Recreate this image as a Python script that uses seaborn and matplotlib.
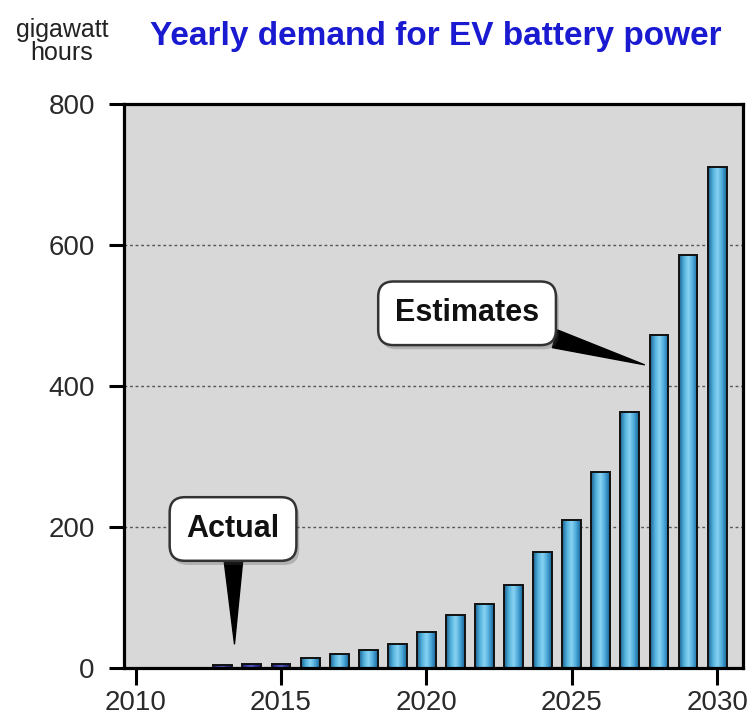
import numpy as np
import pandas as pd
import matplotlib
matplotlib.use("Agg")
import matplotlib.pyplot as plt
import matplotlib.patheffects as pe
from matplotlib.colors import LinearSegmentedColormap
import seaborn as sns

# data
years = list(range(2013, 2031))
demand = [4, 6, 6, 14, 19, 25, 34, 51, 75, 90, 117, 165, 210, 278, 363, 472, 586, 710]
status = ["Actual"] * 3 + ["Estimate"] * 15
y_ticks = [0, 200, 400, 600, 800]
x_ticks = [2010, 2015, 2020, 2025, 2030]

df = pd.DataFrame({"year": years, "gwh": demand, "status": status})

sns.set_theme(style="ticks")
plt.rcParams["font.family"] = ["Liberation Sans", "DejaVu Sans"]

fig = plt.figure(figsize=(7.47, 7.22), dpi=100)
fig.patch.set_facecolor("white")
ax = fig.add_axes([0.166, 0.075, 0.829, 0.781])
ax.set_facecolor("#d8d8d8")

sns.barplot(
    data=df, x="year", y="gwh", hue="status",
    palette={"Actual": "#2b2f8f", "Estimate": "#3b9fd3"},
    native_scale=True, dodge=False, width=0.65,
    edgecolor="#111111", linewidth=1.4, legend=False, ax=ax, zorder=3,
)

# gradient fill inside each bar
est_cmap = LinearSegmentedColormap.from_list(
    "est", ["#1d5f8e", "#4fb0dc", "#8ad4f2", "#4aa7d8", "#1a6399"])
act_cmap = LinearSegmentedColormap.from_list(
    "act", ["#1e2170", "#3a3fae", "#5a60c8", "#2b2f8f", "#1e2170"])
grad = np.linspace(0, 1, 64).reshape(1, -1)
for p in list(ax.patches):
    x0, w, h = p.get_x(), p.get_width(), p.get_height()
    cmap = act_cmap if x0 + w / 2 < 2015.5 else est_cmap
    im = ax.imshow(grad, extent=[x0, x0 + w, 0, h], aspect="auto",
                   cmap=cmap, zorder=3, interpolation="bicubic")
    im.set_clip_path(p)
    p.set_facecolor("none")
    p.set_zorder(4)

ax.set_xlim(2009.6, 2030.9)
ax.set_ylim(0, 800)
ax.set_xticks(x_ticks)
ax.set_yticks(y_ticks)
ax.set_xlabel("")
ax.set_ylabel("")

ax.yaxis.grid(True, color="#555555", linestyle=(0, (2, 2)), linewidth=1.0)
ax.xaxis.grid(False)
ax.set_axisbelow(True)

for s in ax.spines.values():
    s.set_visible(True)
    s.set_color("black")
    s.set_linewidth(2.3)
    s.set_zorder(6)

ax.tick_params(axis="y", direction="out", length=11, width=2.2, pad=10,
               labelsize=20, labelcolor="#2a2a2a", color="black")
ax.tick_params(axis="x", direction="out", length=12, width=2.2, pad=4,
               labelsize=20, labelcolor="#2a2a2a", color="black")

# callouts
box = dict(boxstyle="round,pad=0.55,rounding_size=0.5", fc="white",
           ec="#333333", lw=1.8)
arrow = dict(arrowstyle="wedge,tail_width=0.6", fc="black", ec="black",
             shrinkA=0, shrinkB=0)
a1 = ax.annotate("Estimates", xy=(2027.5, 430), xytext=(2021.4, 503),
                 fontsize=22, fontweight="bold",
                 color="#111111", ha="center", va="center",
                 bbox=box, arrowprops=arrow, zorder=7)
a2 = ax.annotate("Actual", xy=(2013.4, 34), xytext=(2013.35, 197),
                 fontsize=22, fontweight="bold",
                 color="#111111", ha="center", va="center",
                 bbox=box, arrowprops=arrow, zorder=7)
for a in (a1, a2):
    a.get_bbox_patch().set_path_effects(
        [pe.SimplePatchShadow(offset=(2, -3), alpha=0.28), pe.Normal()])

fig.text(0.583, 0.950, "Yearly demand for EV battery power", color="#1a1ad0",
         fontsize=24, fontweight="bold", ha="center", va="center")
fig.text(0.083, 0.942, "gigawatt\nhours", color="#222222", fontsize=18,
         ha="center", va="center", linespacing=0.95)

fig.savefig("out.png", dpi=100)
